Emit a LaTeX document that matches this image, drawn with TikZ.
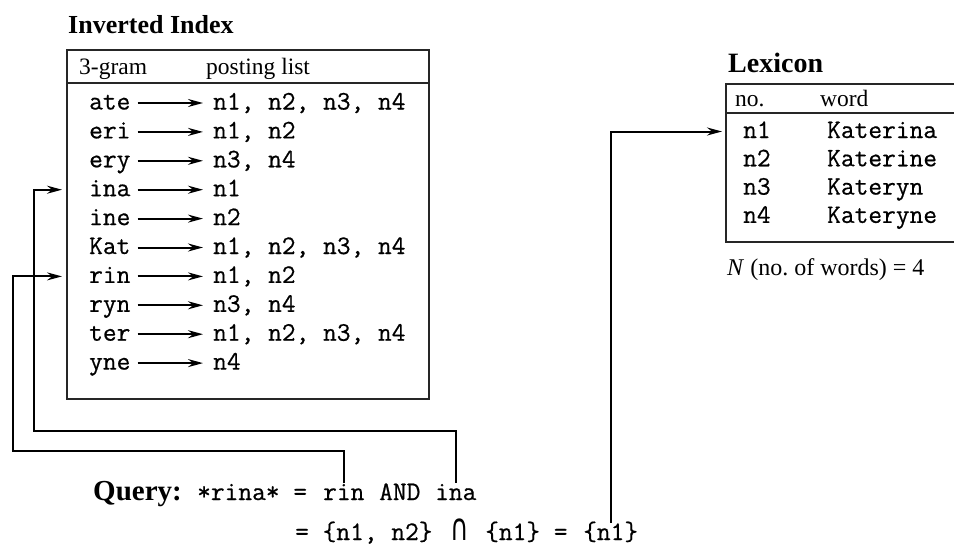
\documentclass[tikz,border=0pt]{standalone}
\usepackage{fontspec}
\usepackage{graphicx}
\setmainfont{Liberation Serif}
\newfontfamily\monofont[FakeBold=0.6]{Latin Modern Mono}
\newfontfamily\capfont{DejaVu Sans}
\usetikzlibrary{arrows.meta,calc}
\begin{document}
\begin{tikzpicture}[x=1pt,y=-1pt,
  lbl/.style={inner sep=0pt, anchor=base west, font=\fontsize{23.5}{28}\selectfont},
  ttl/.style={inner sep=0pt, anchor=base west, font=\fontsize{28}{32}\selectfont\bfseries},
  mono/.style={inner sep=0pt, anchor=base west, text height=17pt, text depth=4pt, font=\fontsize{26.67}{30}\selectfont\monofont},
  frame/.style={line width=2.2pt, draw=black!85},
  conn/.style={line width=2pt},
  tip/.style={-{Stealth[length=15pt,width=8pt,inset=5pt]}}
]
\useasboundingbox (0,0) rectangle (954,546);

% ---------- Inverted index ----------
\node[ttl, font=\fontsize{26}{30}\selectfont\bfseries] (ititle) at (68,33) {Inverted Index};
\draw[frame] (67,50) rectangle (429,399);
\draw[frame] (67,83) -- (429,83);
\node[lbl] (h1) at (79,74) {3-gram};
\node[lbl] (h2) at (206,74) {posting list};

\foreach \g/\p [count=\i from 0] in {ate/{n1, n2, n3, n4}, eri/{n1, n2}, ery/{n3, n4}, ina/{n1}, ine/{n2}, Kat/{n1, n2, n3, n4}, rin/{n1, n2}, ryn/{n3, n4}, ter/{n1, n2, n3, n4}, yne/{n4}} {
  \node[mono] (g-\g) at (89,{109.5+28.9*\i}) {\g};
  \node[mono] (p-\g) at (213,{109.5+28.9*\i}) {\p};
  \draw[conn,tip,shorten <=7pt,shorten >=10pt] (g-\g.east) -- (p-\g.west);
}

\coordinate (ina-in) at ([xshift=-27pt]g-ina.west);
\coordinate (rin-in) at ([xshift=-27pt]g-rin.west);

% ---------- Lexicon ----------
\node[ttl] (ltitle) at (728,72) {Lexicon};
\draw[frame] (954,84) -- (726,84) -- (726,242) -- (954,242);
\draw[frame] (726,113) -- (954,113);
\node[lbl] (lh1) at (735,106) {no.};
\node[lbl] (lh2) at (820,106) {word};
\foreach \n/\w [count=\i from 0] in {n1/Katerina, n2/Katerine, n3/Kateryn, n4/Kateryne} {
  \node[mono] (l-\n) at (743,{138+28.3*\i}) {\n};
  \node[mono] (w-\n) at (827,{138+28.3*\i}) {\w};
}
\coordinate (lex-in) at ([xshift=-21pt]l-n1.west);
\node[lbl, font=\fontsize{24}{28}\selectfont] (nwords) at (727,275) {\textit{N} (no.\ of words) = 4};

% ---------- Query ----------
\node[ttl, font=\fontsize{29}{32}\selectfont\bfseries] (qlabel) at (93,500) {Query:};
\node[mono] (q1) at (197,500) {*rina* =};
\node[mono] (qrin) at (323,500) {rin};
\node[mono] (qand) at (379,500) {AND};
\node[mono] (qina) at (435,500) {ina};

\node[mono] (q2a) at (295,540) {= \{n1, n2\}};
\node[inner sep=0pt, anchor=base, font=\fontsize{22}{26}\selectfont\capfont] (qcap) at (460,540.5) {\scalebox{1.15}[1.7]{∩}};
\node[mono] (q2b) at (485,540) {\{n1\} =};
\node[mono] (qn1) at (583,540) {\{n1\}};

% ---------- connectors ----------
\draw[conn,tip] (qrin.north) |- (13,451) |- (rin-in);
\draw[conn,tip] (qina.north) |- (34,431) |- (ina-in);
\draw[conn,tip] (qn1.north) |- (lex-in);
\end{tikzpicture}
\end{document}
